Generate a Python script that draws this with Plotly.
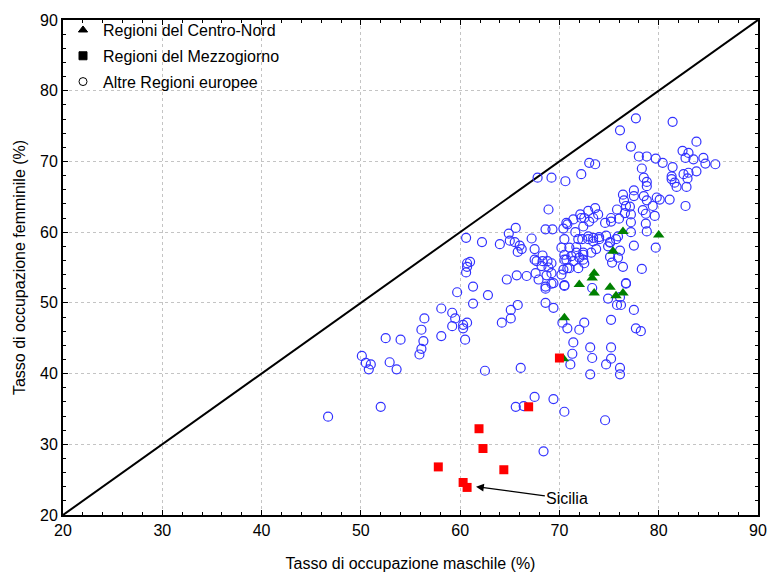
import plotly.graph_objects as go

# Regioni del Centro-Nord (maschile, femminile)
cn_x = [80.0, 76.4, 75.4, 73.5, 73.3, 73.5, 75.1, 75.7, 76.4, 72.0, 70.5, 70.4]
cn_y = [59.6, 60.1, 57.3, 54.2, 53.5, 51.4, 52.2, 51.0, 51.4, 52.6, 47.9, 42.1]

# Regioni del Mezzogiorno
mz_x = [66.9, 61.9, 62.3, 57.8, 64.4, 60.3, 60.7, 70.0]
mz_y = [35.3, 32.2, 29.4, 26.8, 26.4, 24.6, 23.9, 42.2]

# Altre Regioni europee
eu_pts = [
    (46.7, 33.9), (52.0, 35.3), (50.1, 42.5), (50.5, 41.5), (51.0, 41.3), (50.8, 40.6),
    (52.9, 41.6), (53.6, 40.6), (52.5, 45.0), (54.0, 44.8),
    (56.4, 47.8), (56.1, 46.2), (56.3, 44.6), (56.1, 43.5), (55.9, 42.7),
    (58.1, 49.2), (58.1, 45.3), (59.2, 48.6), (59.5, 47.8), (59.2, 46.7),
    (60.3, 46.9), (60.3, 46.4), (60.7, 47.2), (60.5, 44.8),
    (59.7, 51.5), (61.3, 52.3), (61.3, 49.9), (62.8, 51.1),
    (62.5, 40.4), (66.1, 40.8),
    (64.2, 47.2), (65.1, 49.0), (65.1, 47.8), (65.8, 49.7),
    (65.6, 35.3), (66.4, 35.4), (67.5, 36.7),
    (68.6, 50.0), (68.6, 52.0),
    (68.4, 29.0), (70.5, 34.6), (69.4, 36.4),
    (74.6, 33.4), (73.1, 39.9), (76.1, 40.8), (76.1, 39.9),
    (71.1, 41.3), (71.3, 42.8), (71.4, 44.4), (73.3, 42.2), (73.1, 43.7), (75.2, 43.7),
    (75.2, 42.1), (74.7, 41.3),
    (70.3, 47.2), (70.8, 46.4), (72.0, 46.2), (72.5, 47.2), (75.2, 47.6),
    (69.4, 49.3), (77.5, 49.0), (77.7, 46.4), (78.2, 46.0),
    (74.9, 50.6), (75.8, 49.7), (76.2, 49.7), (76.1, 50.8), (76.7, 52.7),
    (70.5, 52.5), (73.3, 52.1), (69.2, 52.7),
    (78.7, 61.2), (78.8, 60.1), (77.2, 60.0), (77.5, 58.1), (79.7, 57.8), (78.3, 54.8),
    (76.4, 55.1), (76.7, 52.8),
    (73.7, 57.6), (73.2, 57.1), (75.1, 56.5), (75.3, 55.7), (76.1, 57.4), (75.9, 56.4),
    (75.1, 58.6), (73.4, 59.2), (74.0, 59.3), (74.7, 59.5), (75.7, 59.0), (75.9, 59.4),
    (74.6, 61.3), (75.2, 61.5), (77.2, 61.4),
    (77.7, 76.1), (81.4, 75.6), (76.1, 74.4), (77.2, 72.1), (83.8, 72.8),
    (78.0, 70.7), (78.8, 70.7), (79.7, 70.4), (80.4, 69.8), (82.4, 71.5), (83.0, 71.2),
    (82.7, 70.5), (83.5, 70.3), (84.5, 70.5), (84.7, 69.7), (85.7, 69.6),
    (73.6, 69.6), (73.0, 69.8), (78.3, 69.0), (81.4, 69.2),
    (78.5, 67.7), (78.8, 67.1), (78.8, 66.5), (81.3, 67.9), (81.3, 67.5), (81.6, 67.0),
    (81.8, 66.4), (82.5, 68.2), (83.0, 68.4), (82.9, 67.6), (83.8, 68.6), (82.8, 66.4),
    (82.7, 63.7),
    (77.5, 65.9), (77.5, 65.1), (78.5, 65.1), (78.8, 64.5), (79.8, 64.9), (80.1, 64.6),
    (81.1, 64.6), (76.4, 65.3), (76.5, 64.5), (76.7, 63.7), (79.4, 63.7), (78.4, 63.1),
    (75.8, 63.2), (77.1, 63.6), (79.6, 62.3), (78.7, 62.6), (77.2, 62.5), (76.6, 62.7),
    (73.6, 63.4), (75.2, 62.0), (76.0, 61.9), (73.9, 62.5), (73.4, 62.0),
    (69.2, 67.7), (70.6, 67.2), (72.2, 68.2), (67.8, 67.7),
    (68.9, 63.2), (65.6, 60.6), (64.9, 59.8), (65.0, 58.8), (65.5, 58.6), (66.0, 58.1),
    (66.2, 57.6), (65.8, 57.2), (67.2, 59.1), (67.5, 57.6), (68.6, 60.4), (69.3, 60.4),
    (60.6, 59.2), (62.2, 58.6), (64.0, 58.3),
    (68.3, 56.7), (67.5, 56.1), (67.7, 55.9), (68.3, 55.9), (68.8, 55.9), (68.9, 55.0),
    (68.2, 55.2), (67.6, 54.2), (68.7, 53.9), (67.9, 53.3), (66.7, 53.8), (65.7, 53.9),
    (64.7, 53.3), (69.4, 52.8), (68.6, 52.3),
    (60.7, 55.6), (61.0, 55.8), (60.7, 55.1), (60.6, 54.3),
    (70.2, 54.0), (70.4, 54.7), (70.5, 56.1), (70.2, 57.8), (70.5, 59.0), (70.4, 60.5),
    (70.8, 61.1), (71.4, 61.8), (72.1, 62.5), (72.9, 63.0), (71.6, 60.0), (71.9, 59.0),
    (72.3, 59.0), (71.0, 57.8), (71.7, 57.9), (71.7, 57.1), (71.2, 56.6), (72.4, 57.1),
    (70.7, 56.1), (71.4, 55.9), (72.0, 56.4), (72.4, 56.1), (71.0, 54.9), (71.9, 54.9),
    (72.5, 55.6), (70.5, 52.4), (72.4, 60.8), (72.9, 59.4), (72.5, 62.0), (70.7, 61.3),
    (72.2, 62.0), (73.0, 61.5), (74.0, 59.0), (73.4, 58.7), (72.9, 59.0), (75.1, 58.5),
    (74.9, 58.0), (70.5, 56.8), (70.8, 54.9), (72.4, 56.8), (69.2, 55.6), (69.2, 54.2),
]
eu_x = [p[0] for p in eu_pts]
eu_y = [p[1] for p in eu_pts]

diag_x = [20, 90]
diag_y = [20, 90]

legend_names = ["Regioni del Centro-Nord", "Regioni del Mezzogiorno", "Altre Regioni europee"]

FONT = "Liberation Sans"

fig = go.Figure()

fig.add_trace(go.Scatter(x=diag_x, y=diag_y, mode="lines",
                         line=dict(color="black", width=2), showlegend=False, hoverinfo="skip"))

fig.add_trace(go.Scatter(x=eu_x, y=eu_y, mode="markers", showlegend=False,
                         marker=dict(symbol="circle-open", size=9, color="rgb(50,50,255)",
                                     line=dict(width=1.2))))
fig.add_trace(go.Scatter(x=cn_x, y=cn_y, mode="markers", showlegend=False,
                         marker=dict(symbol="triangle-up", size=10, color="#008000")))
fig.add_trace(go.Scatter(x=mz_x, y=mz_y, mode="markers", showlegend=False,
                         marker=dict(symbol="square", size=9, color="#ff0000")))

# legend entries (black symbols as in the original)
leg_symbols = ["triangle-up", "square", "circle-open"]
for i, (nm, sym) in enumerate(zip(legend_names, leg_symbols)):
    fig.add_trace(go.Scatter(x=[None], y=[None], mode="markers", name=nm,
                             legendgroup=f"g{i}",
                             marker=dict(symbol=sym, size=8, color="black",
                                         line=dict(width=1, color="black"))))

axis_common = dict(
    range=[20, 90], tick0=20, dtick=10, automargin=False,
    ticks="inside", ticklen=5, tickwidth=1, tickcolor="black",
    showline=True, linewidth=2, linecolor="black", mirror="allticks",
    showgrid=True, gridcolor="#c4c4c4", griddash="dot", gridwidth=1,
    zeroline=False,
    minor=dict(dtick=2, ticks="inside", ticklen=3, tickcolor="black", tickwidth=1, showgrid=False),
    tickfont=dict(family=FONT, size=16, color="black"),
)

fig.update_xaxes(**axis_common,
                 title=dict(text="Tasso di occupazione maschile (%)",
                            font=dict(family=FONT, size=16, color="black"), standoff=20))
fig.update_yaxes(**axis_common,
                 title=dict(text="Tasso di occupazione femminile (%)",
                            font=dict(family=FONT, size=16, color="black"), standoff=10))

fig.add_annotation(x=61.6, y=24.0, ax=70.8, ay=22.3, axref="x", ayref="y",
                   text="Sicilia", showarrow=True, arrowhead=2, arrowsize=1.2,
                   arrowwidth=1.3, arrowcolor="black",
                   font=dict(family=FONT, size=16, color="black"))

fig.update_layout(
    width=768, height=576,
    margin=dict(l=63, r=10, t=20, b=61),
    paper_bgcolor="white", plot_bgcolor="white",
    legend=dict(x=0.0, y=1.014, xanchor="left", yanchor="top",
                bgcolor="rgba(0,0,0,0)", traceorder="grouped", tracegroupgap=2,
                font=dict(family=FONT, size=16, color="black")),
    font=dict(family=FONT, color="black"),
)

fig.write_html("out.html")
